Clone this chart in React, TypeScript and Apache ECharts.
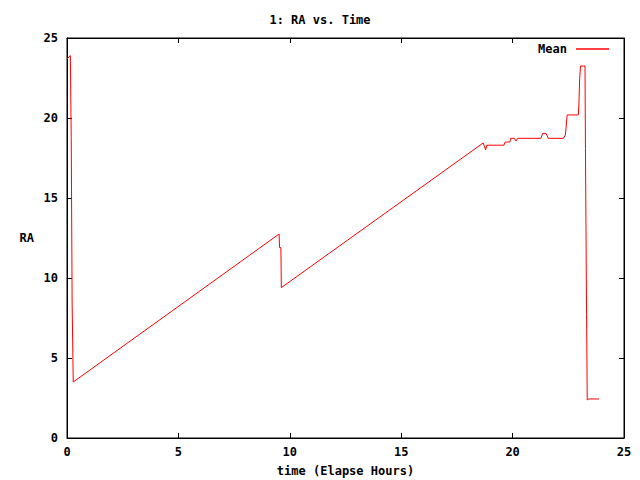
import React, { useEffect, useRef } from "react";
import * as echarts from "echarts";

const title = "1: RA vs. Time";
const xLabel = "time (Elapse Hours)";
const yLabel = "RA";
const seriesName = "Mean";

// elapsed hours
const timeHours = [
  0.0, 0.15, 0.18, 0.19, 0.22, 0.23, 0.28,
  9.52, 9.54, 9.6, 9.62,
  18.68, 18.79, 18.84, 19.61, 19.67, 19.88, 19.91, 20.08, 20.15, 20.23,
  21.27, 21.35, 21.5, 21.6, 22.28, 22.37, 22.45, 22.95, 22.98, 23.01, 23.05,
  23.25, 23.27, 23.32, 23.35, 23.42, 23.88,
];
// RA mean values (hours)
const raMean = [
  23.7, 23.9, 23.9, 18.8, 18.8, 8.5, 3.5,
  12.75, 11.9, 11.9, 9.4,
  18.44, 18.0, 18.3, 18.3, 18.5, 18.5, 18.73, 18.73, 18.56, 18.73,
  18.73, 19.04, 19.04, 18.73, 18.73, 18.94, 20.19, 20.19, 21.0, 22.48, 23.25,
  23.25, 18.1, 7.7, 2.38, 2.44, 2.44,
];

const xTicks = [0, 5, 10, 15, 20, 25];
const yTicks = [0, 5, 10, 15, 20, 25];

const FONT = "DejaVu Sans Mono";

export default function App() {
  const ref = useRef<HTMLDivElement>(null);
  useEffect(() => {
    if (!ref.current) return;
    const chart = echarts.init(ref.current, undefined, { renderer: "svg" });
    const data = timeHours.map((t, i) => [t, raMean[i]]);
    const tickStyle = { show: true, inside: true, length: 5, lineStyle: { color: "#000", width: 1 } };
    const lineStyle = { show: true, onZero: false, lineStyle: { color: "#000", width: 1 } };
    const labelStyle = { fontFamily: FONT, fontWeight: "bold" as const, fontSize: 12, color: "#000" };
    chart.setOption({
      animation: false,
      backgroundColor: "#fff",
      title: {
        text: title,
        left: "center",
        top: 9,
        textStyle: { fontFamily: FONT, fontWeight: "bold", fontSize: 12, color: "#000" },
      },
      legend: {
        data: [{ name: seriesName, icon: "rect" }],
        right: 26,
        top: 38,
        align: "right",
        itemWidth: 33,
        itemHeight: 1.5,
        itemGap: 8,
        textStyle: { fontFamily: FONT, fontWeight: "bold", fontSize: 12, color: "#000", padding: [0, 4, 0, 0] },
      },
      grid: {
        left: 67,
        right: 16,
        top: 38,
        bottom: 42,
        containLabel: false,
        outerBoundsMode: "none",
        show: true,
        borderColor: "#000",
        borderWidth: 1,
        backgroundColor: "transparent",
      },
      xAxis: [
        {
          type: "value",
          min: xTicks[0],
          max: xTicks[xTicks.length - 1],
          interval: 5,
          position: "bottom",
          axisLine: lineStyle,
          axisTick: tickStyle,
          splitLine: { show: false },
          axisLabel: { ...labelStyle, margin: 8 },
          name: xLabel,
          nameLocation: "middle",
          nameGap: 27,
          nameTextStyle: labelStyle,
        },
        {
          type: "value",
          min: xTicks[0],
          max: xTicks[xTicks.length - 1],
          interval: 5,
          position: "top",
          axisLine: lineStyle,
          axisTick: tickStyle,
          splitLine: { show: false },
          axisLabel: { show: false },
        },
      ],
      yAxis: [
        {
          type: "value",
          min: yTicks[0],
          max: yTicks[yTicks.length - 1],
          interval: 5,
          position: "left",
          axisLine: lineStyle,
          axisTick: tickStyle,
          splitLine: { show: false },
          axisLabel: { ...labelStyle, margin: 9 },
          name: yLabel,
          nameLocation: "middle",
          nameRotate: 0,
          nameGap: 33,
          nameTextStyle: labelStyle,
        },
        {
          type: "value",
          min: yTicks[0],
          max: yTicks[yTicks.length - 1],
          interval: 5,
          position: "right",
          axisLine: lineStyle,
          axisTick: tickStyle,
          splitLine: { show: false },
          axisLabel: { show: false },
        },
      ],
      series: [
        {
          name: seriesName,
          type: "line",
          data,
          showSymbol: false,
          symbol: "none",
          xAxisIndex: 0,
          yAxisIndex: 0,
          color: "#ff0000",
          lineStyle: { color: "#ff0000", width: 1 },
        },
      ],
    });
    return () => chart.dispose();
  }, []);
  return <div ref={ref} style={{ width: 640, height: 480, position: "absolute", left: 0, top: 0 }} />;
}
